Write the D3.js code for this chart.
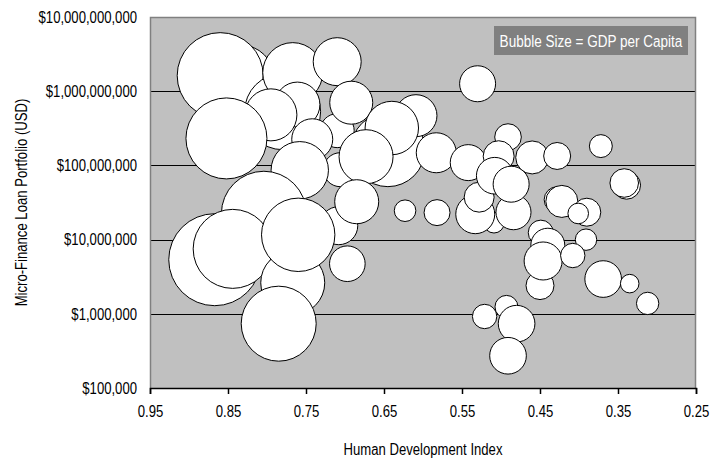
<!DOCTYPE html>
<html>
<head>
<meta charset="utf-8">
<script src="https://cdn.jsdelivr.net/npm/d3@7"></script>
<style>
  html, body { margin: 0; padding: 0; background: #fff; }
  svg { display: block; }
  text { font-family: "Liberation Sans", Arial, sans-serif; }
</style>
</head>
<body>
<svg id="chart" width="727" height="460"></svg>
<script>
// Human Development Index per country (x)
const hdi = [
  0.835, 0.860, 0.780, 0.767, 0.710, 0.761, 0.795, 0.852, 0.645, 0.710,
  0.706, 0.692, 0.609, 0.640, 0.742, 0.673, 0.758, 0.708, 0.685, 0.867,
  0.804, 0.844, 0.767, 0.785, 0.760, 0.697, 0.623,
  0.509, 0.533, 0.528, 0.530, 0.491, 0.583, 0.542, 0.503, 0.508, 0.484,
  0.487, 0.460, 0.428, 0.372, 0.339, 0.342, 0.582, 0.428, 0.422, 0.390,
  0.401, 0.391, 0.450, 0.449, 0.440, 0.446, 0.408, 0.369, 0.335, 0.312,
  0.521, 0.493, 0.480, 0.491
];
// Micro-finance loan portfolio, USD (y, log scale)
const portfolio = [
  1.43e9, 1.62e9, 5.3e8, 1.78e9, 2.5e9, 6.6e8, 4.8e8, 2.31e8, 1.63e8, 2.94e8,
  8.75e7, 7.0e8, 4.68e8, 3.19e8, 2.25e8, 1.31e8, 8.6e7, 1.54e7, 3.24e7, 5.36e6,
  2.23e7, 7.5e6, 2.62e6, 7.36e5, 1.16e7, 4.73e6, 2.45e7,
  1.69e7, 2.2e7, 3.73e7, 1.26e9, 2.41e8, 1.48e8, 1.09e8, 1.33e8, 7.26e7, 2.34e7,
  5.58e7, 1.28e8, 1.34e8, 1.82e8, 5.41e7, 5.79e7, 2.31e7, 3.45e7, 3.27e7, 2.34e7,
  2.25e7, 9.98e6, 2.4e6, 1.24e7, 8.4e6, 5.15e6, 6.1e6, 2.94e6, 2.55e6, 1.38e6,
  9.2e5, 1.24e6, 7.36e5, 2.72e5
];
// GDP per capita, USD (bubble area)
const gdpPerCapita = [
  7260, 10960, 8560, 5330, 3410, 3000, 4010, 9720, 8110, 1710,
  1710, 2740, 2610, 4230, 2490, 4320, 4880, 2140, 2870, 12540,
  10700, 9250, 6070, 8330, 7980, 1880, 690,
  630, 2250, 1330, 1920, 1050, 2370, 1920, 1420, 1990, 1820,
  1920, 1610, 1080, 780, 1160, 1210, 1000, 1000, 1520, 1160,
  630, 680, 1160, 930, 1710, 2140, 880, 1990, 510, 740,
  880, 780, 1990, 1990
];

const xTicks = [0.95, 0.85, 0.75, 0.65, 0.55, 0.45, 0.35, 0.25];
const yTicks = [1e5, 1e6, 1e7, 1e8, 1e9, 1e10];
const legendText = "Bubble Size = GDP per Capita";
const xTitle = "Human Development Index";
const yTitle = "Micro-Finance Loan Portfolio (USD)";

// condensed lettering: regular sans squeezed horizontally
const NARROW = "scale(0.82,1)";

const svg = d3.select("#chart");
const plot = { left: 150, right: 696, top: 17, bottom: 388 };

const x = d3.scaleLinear().domain([0.95, 0.25]).range([plot.left, plot.right]);
const y = d3.scaleLog().domain([1e5, 1e10]).range([plot.bottom, plot.top]);
const r = d3.scaleSqrt().domain([0, 12000]).range([0, 45]);

// plot background
svg.append("rect")
  .attr("x", plot.left).attr("y", plot.top)
  .attr("width", plot.right - plot.left).attr("height", plot.bottom - plot.top)
  .attr("fill", "#c0c0c0");

// horizontal gridlines at each decade
svg.append("g")
  .selectAll("line")
  .data(yTicks.slice(1, -1))
  .join("line")
  .attr("x1", plot.left).attr("x2", plot.right)
  .attr("y1", d => Math.round(y(d)) + 0.5).attr("y2", d => Math.round(y(d)) + 0.5)
  .attr("stroke", "#000").attr("stroke-width", 1);

// plot frame (top, right, left)
svg.append("path")
  .attr("d", `M${plot.left + 0.5},${plot.bottom} V${plot.top + 0.5} H${plot.right - 0.5} V${plot.bottom}`)
  .attr("fill", "none").attr("stroke", "#808080").attr("stroke-width", 1.5);

// bubbles, drawn in data order
const idx = d3.range(hdi.length);
svg.append("g")
  .selectAll("circle")
  .data(idx)
  .join("circle")
  .attr("cx", i => x(hdi[i]))
  .attr("cy", i => y(portfolio[i]))
  .attr("r", i => r(gdpPerCapita[i]))
  .attr("fill", "#fff")
  .attr("stroke", "#000")
  .attr("stroke-width", 1);

// x axis
const xAxis = svg.append("g")
  .attr("transform", `translate(0,${plot.bottom})`)
  .call(d3.axisBottom(x).tickValues(xTicks).tickFormat(d3.format(".2f")).tickSize(6).tickPadding(12));
xAxis.select(".domain").attr("stroke", "#000").attr("stroke-width", 1.5);
xAxis.selectAll(".tick line").attr("stroke", "#000").attr("stroke-width", 1.5);
xAxis.selectAll("text")
  .attr("font-size", 16).attr("fill", "#000")
  .attr("font-family", "Liberation Sans, Arial, sans-serif")
  .attr("transform", NARROW);

// y axis labels
const fmt = d3.format("$,");
svg.append("g")
  .selectAll("g")
  .data(yTicks)
  .join("g")
  .attr("transform", d => `translate(137,${y(d)}) ${NARROW}`)
  .append("text")
  .attr("dy", "0.36em")
  .attr("text-anchor", "end")
  .attr("font-size", 16)
  .attr("fill", "#000")
  .text(d => fmt(d));

// legend note
svg.append("rect")
  .attr("x", 494).attr("y", 26).attr("width", 194).attr("height", 29)
  .attr("fill", "#808080");
svg.append("g")
  .attr("transform", `translate(591,41) ${NARROW}`)
  .append("text")
  .attr("dy", "0.36em")
  .attr("text-anchor", "middle").attr("font-size", 16.5).attr("fill", "#fff")
  .text(legendText);

// axis titles
svg.append("g")
  .attr("transform", `translate(423,449) ${NARROW}`)
  .append("text")
  .attr("dy", "0.36em")
  .attr("text-anchor", "middle").attr("font-size", 16).attr("fill", "#000")
  .text(xTitle);
svg.append("g")
  .attr("transform", `translate(21,${(plot.top + plot.bottom) / 2}) rotate(-90) ${NARROW}`)
  .append("text")
  .attr("dy", "0.36em")
  .attr("text-anchor", "middle").attr("font-size", 16).attr("fill", "#000")
  .text(yTitle);
</script>
</body>
</html>
